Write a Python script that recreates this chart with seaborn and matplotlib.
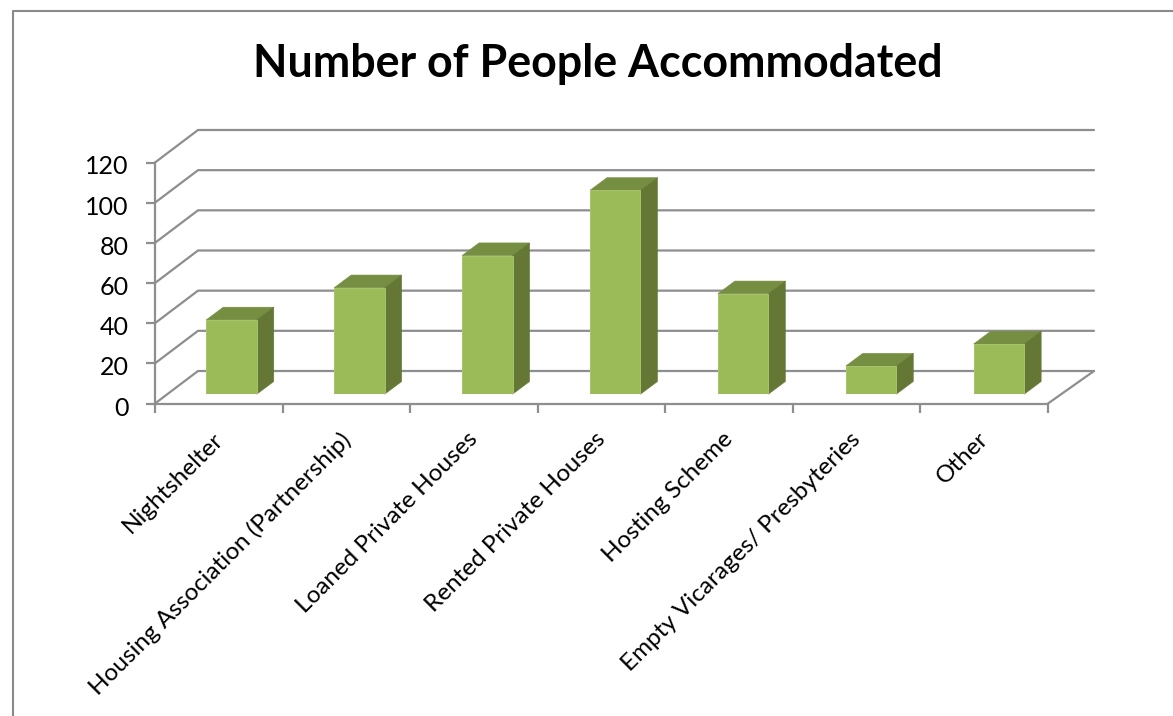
import matplotlib
matplotlib.use("Agg")
import matplotlib.pyplot as plt
from matplotlib.lines import Line2D
from matplotlib.patches import Polygon
from matplotlib.transforms import ScaledTranslation
import pandas as pd
import seaborn as sns

categories = [
    "Nightshelter",
    "Housing Association (Partnership)",
    "Loaned Private Houses",
    "Rented Private Houses",
    "Hosting Scheme",
    "Empty Vicarages/ Presbyteries",
    "Other",
]
people = [37, 53, 69, 101.5, 50, 14, 25]
y_ticks = [0, 20, 40, 60, 80, 100, 120]

W, H = 1173, 716
GRID = "#8E8E8E"
FRONT = "#9BBB59"
TOP = "#768E42"
SIDE = "#647735"
EDGE = "#A6C46B"

sns.set_theme(style="white")
plt.rcParams["font.family"] = ["Lato", "DejaVu Sans"]


def box(left, right, top, bottom):
    """Axes rectangle in figure fractions from pixel edges."""
    return [left / W, 1 - bottom / H, (right - left) / W, (bottom - top) / H]


fig = plt.figure(figsize=(W / 100, H / 100), dpi=100, facecolor="white")

# Outer chart frame, open at the right and bottom edges of the canvas
fig.add_artist(Line2D([12.5 / W, 12.5 / W, 1], [0, 1 - 10.5 / H, 1 - 10.5 / H],
                      color="#8A8A8A", lw=1.5))

fig.text(598 / W, 1 - 64 / H, "Number of People Accommodated", ha="center",
         va="center", fontsize=32.2, fontweight="bold", color="black")

# Front plane of the chart: carries the axes, ticks and labels
L, R, T, B = 155, 1048, 162.5, 403.5
ax = fig.add_axes(box(L, R, T, B))
ax.set_xlim(-0.5, len(categories) - 0.5)
ax.set_ylim(0, 120)
ax.patch.set_alpha(0)
px_x = (len(categories)) / (R - L)
px_y = 120 / (B - T)

# Perspective depth of the floor and left wall
depth_x, depth_y = 43 * px_x, 32.5 * px_y
x0, x1 = ax.get_xlim()
for v in y_ticks:
    ax.plot([x0, x0 + depth_x, x1 + depth_x + 3 * px_x],
            [v, v + depth_y, v + depth_y],
            color=GRID, lw=1.6, clip_on=False, zorder=1, solid_joinstyle="miter")
ax.plot([x1, x1 + depth_x + 3 * px_x], [0, depth_y], color=GRID, lw=1.6,
        clip_on=False, zorder=1)

for name in ("top", "right"):
    ax.spines[name].set_visible(False)
for name in ("left", "bottom"):
    ax.spines[name].set_color(GRID)
    ax.spines[name].set_linewidth(1.6)

ax.set_yticks(y_ticks)
ax.set_xticks([i - 0.5 for i in range(len(categories) + 1)])
ax.set_xticklabels([])
ax.tick_params(axis="both", length=6.5, width=1.6, color=GRID, bottom=True, left=True)
ax.tick_params(axis="y", labelsize=18, labelcolor="black", pad=12.5)
ax.set_xlabel("")
ax.set_ylabel("")

# Value labels sit slightly below their tick marks
nudge = ScaledTranslation(0, -2.5 / 100, fig.dpi_scale_trans)
for tick in ax.yaxis.get_major_ticks():
    tick.label1.set_transform(tick.label1.get_transform() + nudge)

for i, label in enumerate(categories):
    ax.annotate(label, xy=(i, 0), xycoords="data", xytext=(-5, -18),
                textcoords="offset points", rotation=45, ha="right", va="top",
                rotation_mode="anchor", fontsize=17.5, color="black",
                annotation_clip=False)

# The bars sit a little way back from the front plane
SHIFT_X, SHIFT_Y = 12.55, 9.3
SPACING = 127.9
bar_ax = fig.add_axes(box(L + SHIFT_X, L + SHIFT_X + SPACING * len(categories),
                          T - SHIFT_Y, B - SHIFT_Y))
df = pd.DataFrame({"category": categories, "people": people})
BAR_WIDTH = 0.395
sns.barplot(data=df, x="category", y="people", ax=bar_ax, color=FRONT,
            saturation=1, width=BAR_WIDTH, edgecolor=EDGE, linewidth=0.7, zorder=3)
bar_ax.set_xlim(-0.5, len(categories) - 0.5)
bar_ax.set_ylim(0, 120)
bar_ax.axis("off")

# Top and side faces of each block
bx, by = 17 / SPACING, 12.7 * px_y
hw = BAR_WIDTH / 2
for i, v in enumerate(people):
    bar_ax.add_patch(Polygon([(i - hw, v), (i + hw, v), (i + hw + bx, v + by), (i - hw + bx, v + by)],
                             closed=True, fc=TOP, ec=TOP, lw=0.4, zorder=2, clip_on=False))
    bar_ax.add_patch(Polygon([(i + hw, 0), (i + hw + bx, by), (i + hw + bx, v + by), (i + hw, v)],
                             closed=True, fc=SIDE, ec=SIDE, lw=0.4, zorder=2, clip_on=False))

fig.savefig("out.png", dpi=100, facecolor="white")
